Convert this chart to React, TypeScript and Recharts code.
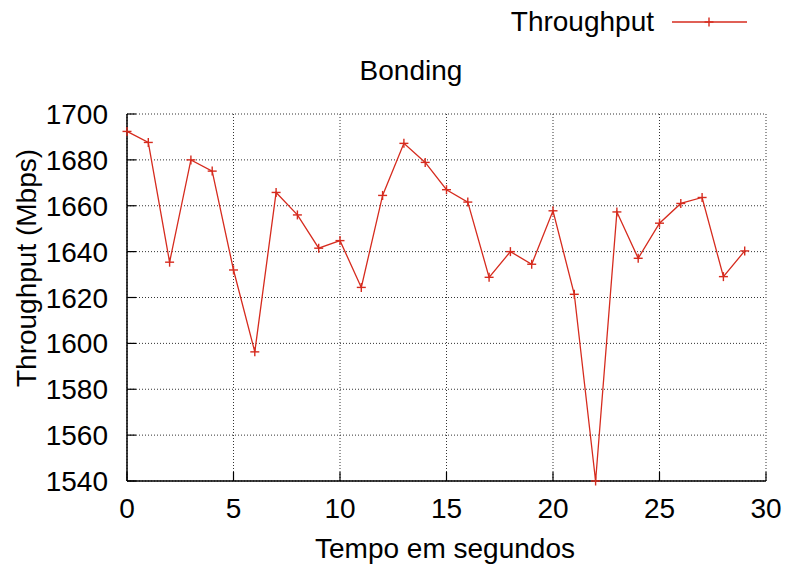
import { LineChart, Line, XAxis, YAxis, CartesianGrid } from "recharts";

const seconds = [0, 1, 2, 3, 4, 5, 6, 7, 8, 9, 10, 11, 12, 13, 14, 15, 16, 17, 18, 19, 20, 21, 22, 23, 24, 25, 26, 27, 28, 29];
const throughput = [
  1692.4, 1687.6, 1635.4, 1680.0, 1675.1, 1632.0, 1596.3, 1665.8, 1656.0, 1641.5,
  1644.8, 1624.4, 1664.5, 1687.2, 1678.9, 1667.0, 1661.6, 1628.8, 1640.0, 1634.5,
  1657.8, 1621.4, 1540.0, 1657.3, 1637.1, 1652.4, 1661.0, 1663.6, 1629.1, 1640.3,
];
const xTicks = [0, 5, 10, 15, 20, 25, 30];
const yTicks = [1540, 1560, 1580, 1600, 1620, 1640, 1660, 1680, 1700];

const data = seconds.map((t, i) => ({ t, v: throughput[i] }));

const FONT = "'Liberation Sans', Arial, Helvetica, sans-serif";
const FS = 28;
const RED = "#d62b1e";
const TICK = 9;

const PlusDot = (props: any) => {
  const { cx, cy } = props;
  if (cx == null || cy == null) return null;
  return (
    <g stroke={RED} strokeWidth={1.4}>
      <line x1={cx - 4.5} y1={cy} x2={cx + 4.5} y2={cy} />
      <line x1={cx} y1={cy - 4.5} x2={cx} y2={cy + 4.5} />
    </g>
  );
};

const LeftTick = (props: any) => {
  const { x, y, payload } = props;
  return (
    <g>
      <text x={x} y={y} dy="0.36em" textAnchor="end" fontSize={FS} fill="#000" fontFamily={FONT}>
        {payload.value}
      </text>
      <line x1={x + 19} y1={y} x2={x + 19 + TICK} y2={y} stroke="#000" strokeWidth={1.2} />
    </g>
  );
};

const RightTick = (props: any) => {
  const { x, y } = props;
  return <line x1={x - TICK} y1={y} x2={x} y2={y} stroke="#000" strokeWidth={1.2} />;
};

const BottomTick = (props: any) => {
  const { x, y, payload } = props;
  return (
    <g>
      <text x={x} y={y} dy="0.71em" textAnchor="middle" fontSize={FS} fill="#000" fontFamily={FONT}>
        {payload.value}
      </text>
      <line x1={x} y1={y - 17} x2={x} y2={y - 17 - TICK} stroke="#000" strokeWidth={1.2} />
    </g>
  );
};

const TopTick = (props: any) => {
  const { x, y } = props;
  return <line x1={x} y1={y} x2={x} y2={y + TICK} stroke="#000" strokeWidth={1.2} />;
};

export default function App() {
  return (
    <div style={{ position: "absolute", left: 0, top: 0, width: 786, height: 569, background: "#fff" }}>
      <LineChart
        width={786}
        height={569}
        data={data}
        margin={{ top: 114, right: 20, bottom: 0, left: 0 }}
      >
        <CartesianGrid stroke="#333" strokeDasharray="1 2" strokeWidth={1} horizontalValues={yTicks} verticalValues={xTicks} />
        <XAxis
          dataKey="t"
          type="number"
          domain={[0, 30]}
          ticks={xTicks}
          height={88}
          tickSize={0}
          tickMargin={17}
          tick={<BottomTick />}
          axisLine={{ stroke: "#000", strokeWidth: 1.5 }}
          tickLine={false}
          interval={0}
        />
        <XAxis
          xAxisId="top"
          orientation="top"
          type="number"
          domain={[0, 30]}
          ticks={xTicks}
          height={0}
          tickSize={0}
          tickMargin={0}
          tick={<TopTick />}
          axisLine={{ stroke: "#000", strokeWidth: 1.5 }}
          tickLine={false}
          interval={0}
        />
        <YAxis
          type="number"
          domain={[1540, 1700]}
          ticks={yTicks}
          width={127}
          tickSize={0}
          tickMargin={19}
          tick={<LeftTick />}
          axisLine={{ stroke: "#000", strokeWidth: 1.5 }}
          tickLine={false}
          interval={0}
        />
        <YAxis
          yAxisId="right"
          orientation="right"
          type="number"
          domain={[1540, 1700]}
          ticks={yTicks}
          width={0}
          tickSize={0}
          tickMargin={0}
          tick={<RightTick />}
          axisLine={{ stroke: "#000", strokeWidth: 1.5 }}
          tickLine={false}
          interval={0}
        />
        <Line
          dataKey="v"
          stroke={RED}
          strokeWidth={1.3}
          dot={<PlusDot />}
          activeDot={false}
          isAnimationActive={false}
        />
        <text x={411} y={80} textAnchor="middle" fontSize={FS} fontFamily={FONT} fill="#000">
          Bonding
        </text>
        <text x={654} y={31} textAnchor="end" fontSize={FS} fontFamily={FONT} fill="#000">
          Throughput
        </text>
        <line x1={672} y1={22} x2={747} y2={22} stroke={RED} strokeWidth={1.3} />
        <PlusDot cx={709} cy={22} />
        <text x={445} y={558} textAnchor="middle" fontSize={FS} fontFamily={FONT} fill="#000">
          Tempo em segundos
        </text>
        <text
          x={36}
          y={268}
          transform="rotate(-90 36 268)"
          textAnchor="middle"
          fontSize={FS}
          fontFamily={FONT}
          fill="#000"
        >
          Throughput (Mbps)
        </text>
      </LineChart>
    </div>
  );
}
